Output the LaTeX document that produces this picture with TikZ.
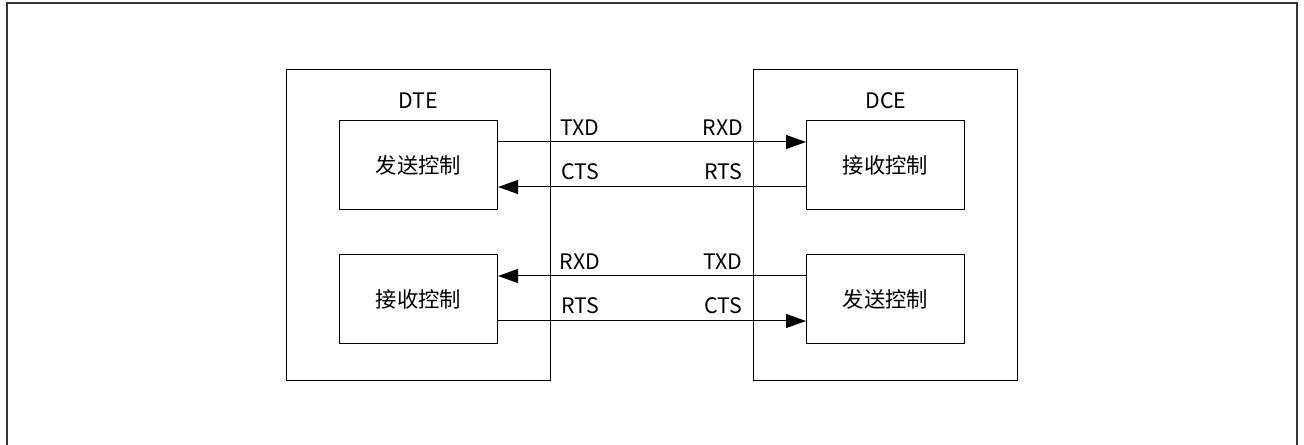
\documentclass[tikz,border=0pt]{standalone}
\usepackage{fontspec}
\setmainfont{Noto Sans CJK SC}
\usetikzlibrary{arrows.meta}
\begin{document}
\begin{tikzpicture}[x=0.75pt,y=-0.75pt,
  box/.style={draw,line width=0.8pt,minimum width=0pt},
  lbl/.style={font=\fontsize{16}{19}\selectfont,inner sep=0pt},
  con/.style={line width=0.75pt,-{Triangle[length=15pt,width=10.5pt]}}]
\useasboundingbox (0,0) rectangle (1304,445);
\clip (0,0) rectangle (1304,445);
\draw[line width=1.2pt,draw=black!80] (7,3) rectangle (1297,470);
% outer device frames
\node[box,minimum width=264*0.75pt,minimum height=311*0.75pt,anchor=north west,inner sep=0pt] (dte) at (286,69) {};
\node[box,minimum width=264*0.75pt,minimum height=311*0.75pt,anchor=north west,inner sep=0pt] (dce) at (753,69) {};
\node[lbl] (dtel) at (418,101) {DTE};
\node[lbl] (dcel) at (886,101) {DCE};
% inner boxes
\node[box,minimum width=158*0.75pt,minimum height=89*0.75pt,anchor=north west,inner sep=0pt] (a) at (339,120) {};
\node[lbl] at (a.center) {发送控制};
\node[box,minimum width=158*0.75pt,minimum height=89*0.75pt,anchor=north west,inner sep=0pt] (b) at (806,120) {};
\node[lbl] at (b.center) {接收控制};
\node[box,minimum width=158*0.75pt,minimum height=89*0.75pt,anchor=north west,inner sep=0pt] (c) at (339,254) {};
\node[lbl] at (c.center) {接收控制};
\node[box,minimum width=158*0.75pt,minimum height=89*0.75pt,anchor=north west,inner sep=0pt] (d) at (806,254) {};
\node[lbl] at (d.center) {发送控制};
% connectors
\draw[con] (a.north east |- 0,142) -- (b.north west |- 0,142);
\draw[con] (b.north west |- 0,187) -- (a.north east |- 0,187);
\draw[con] (d.north west |- 0,276) -- (c.north east |- 0,276);
\draw[con] (c.north east |- 0,321) -- (d.north west |- 0,321);
% signal labels
\node[lbl] (l1) at (580,128) {TXD};
\node[lbl] (l2) at (723,128) {RXD};
\node[lbl] (l3) at (580,172) {CTS};
\node[lbl] (l4) at (723,172) {RTS};
\node[lbl] (l5) at (580,262) {RXD};
\node[lbl] (l6) at (723,262) {TXD};
\node[lbl] (l7) at (580,306) {RTS};
\node[lbl] (l8) at (723,306) {CTS};
\end{tikzpicture}
\end{document}
